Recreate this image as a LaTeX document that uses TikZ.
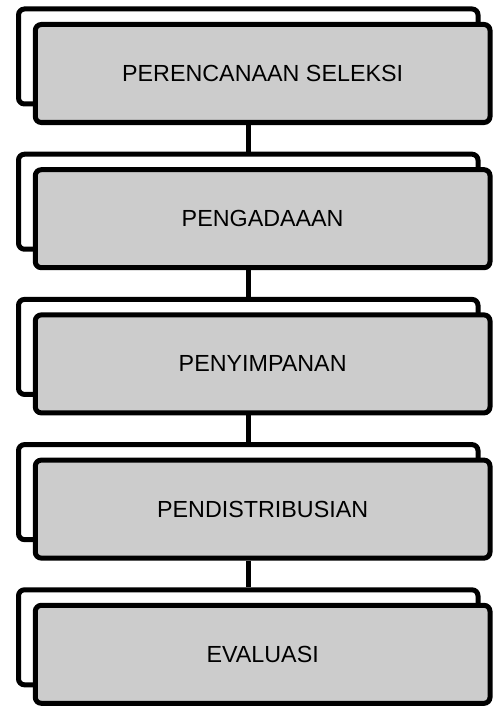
\documentclass[tikz,border=0pt]{standalone}
\usepackage{fontspec}
\setmainfont{Liberation Sans}
\begin{document}
\begin{tikzpicture}[x=1pt,y=-1pt,
  backbox/.style={draw=black,line width=5pt,fill=white,rounded corners=6pt,minimum width=459.5pt,minimum height=95pt,inner sep=0pt},
  frontbox/.style={draw=black,line width=5pt,fill=black!20,rounded corners=6pt,minimum width=454.7pt,minimum height=98pt,inner sep=0pt,font=\fontsize{23.3}{28}\selectfont,text=black},
  link/.style={draw=black,line width=5pt}]
\useasboundingbox (0,0) rectangle (495,706);
\foreach \i/\t in {0/PERENCANAAN SELEKSI,1/PENGADAAAN,2/PENYIMPANAN,3/PENDISTRIBUSIAN,4/EVALUASI}{
  \node[backbox] (b\i) at (248.25,{56.5+145.2*\i}) {};
  \node[frontbox] (f\i) at (262.65,{73.5+145.2*\i}) {\t};
}
\foreach \i/\j in {0/1,1/2,2/3,3/4}{
  \draw[link] (b\j.north |- f\i.south) -- (b\j.north);
}
\end{tikzpicture}
\end{document}
